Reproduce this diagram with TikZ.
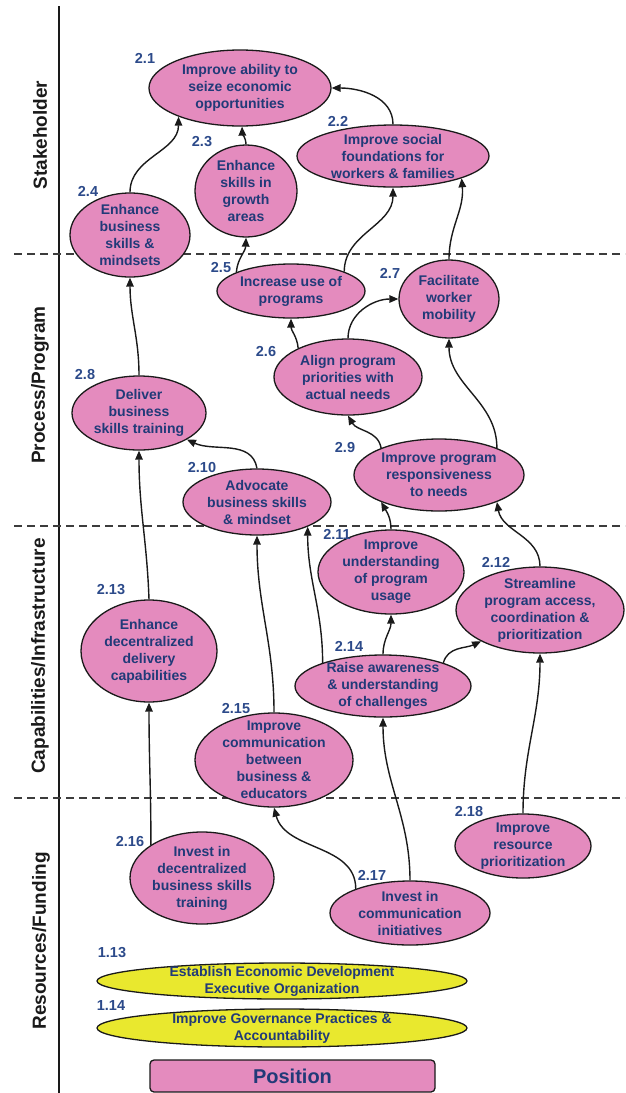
\documentclass[tikz,border=0pt]{standalone}
\usepackage{fontspec}
\setmainfont{Liberation Sans}
\usetikzlibrary{shapes.geometric,arrows.meta}
\definecolor{pinkfill}{HTML}{E48BBE}
\definecolor{navy}{HTML}{213A78}
\definecolor{numblue}{HTML}{2C4A8A}
\definecolor{yel}{HTML}{E9E82E}
\definecolor{ink}{HTML}{1A1A1A}
\begin{document}
\begin{tikzpicture}[x=1pt,y=1pt,
  goal/.style={ellipse, draw=ink, line width=1.3pt, fill=pinkfill, inner sep=-25pt,
    align=center, text=navy, font=\fontsize{14}{17}\selectfont\bfseries},
  prior/.style={goal, fill=yel},
  num/.style={text=numblue, font=\fontsize{14.5}{17}\selectfont\bfseries, inner sep=0pt},
  lane/.style={rotate=90, text=ink, font=\fontsize{19}{22}\selectfont\bfseries, inner sep=0pt},
  divider/.style={draw=ink!85, line width=1.3pt, dash pattern=on 8pt off 5pt},
  arr/.style={draw=ink, line width=1.4pt, -{Triangle[length=9pt,width=7.5pt]}}
]
\useasboundingbox (0,0) rectangle (625,-1093);

% swim-lane frame
\draw[ink, line width=1.6pt] (59,-6) -- (59,-1093);
\draw[divider] (14,-254) -- (625,-254);
\draw[divider] (14,-526) -- (625,-526);
\draw[divider] (14,-798) -- (625,-798);

\node[lane] (laneS) at (40,-135) {Stakeholder};
\node[lane] (laneP) at (40,-385) {Process/Program};
\node[lane] (laneC) at (40,-656) {Capabilities/Infrastructure};
\node[lane] (laneR) at (41,-941) {Resources/Funding};

% stakeholder level
\node[goal, minimum width=182, minimum height=76] (n21) at (240,-88) {Improve ability to\\seize economic\\opportunities};
\node[goal, minimum width=192, minimum height=62] (n22) at (393,-156) {Improve social\\foundations for\\workers \& families};
\node[goal, minimum width=102, minimum height=92] (n23) at (246,-191) {Enhance\\skills in\\growth\\areas};
\node[goal, minimum width=120, minimum height=84] (n24) at (130,-235) {Enhance\\business\\skills \&\\mindsets};

% process level
\node[goal, minimum width=148, minimum height=54] (n25) at (291,-291) {Increase use of\\programs};
\node[goal, minimum width=100, minimum height=78] (n27) at (449,-299) {Facilitate\\worker\\mobility};
\node[goal, minimum width=148, minimum height=76] (n26) at (348,-377) {Align program\\priorities with\\actual needs};
\node[goal, minimum width=134, minimum height=74] (n28) at (139,-413) {Deliver\\business\\skills training};
\node[goal, minimum width=170, minimum height=72] (n29) at (439,-475) {Improve program\\responsiveness\\to needs};
\node[goal, minimum width=148, minimum height=66] (n210) at (257,-502) {Advocate\\business skills\\\& mindset};

% capabilities level
\node[goal, minimum width=146, minimum height=84] (n211) at (391,-572) {Improve\\understanding\\of program\\usage};
\node[goal, minimum width=168, minimum height=86] (n212) at (540,-610) {Streamline\\program access,\\coordination \&\\prioritization};
\node[goal, minimum width=136, minimum height=102] (n213) at (149,-651) {Enhance\\decentralized\\delivery\\capabilities};
\node[goal, minimum width=176, minimum height=62] (n214) at (383,-686) {Raise awareness\\\& understanding\\of challenges};
\node[goal, minimum width=158, minimum height=94] (n215) at (274,-760) {Improve\\communication\\between\\business \&\\educators};

% resources level
\node[goal, minimum width=144, minimum height=92] (n216) at (202,-878) {Invest in\\decentralized\\business skills\\training};
\node[goal, minimum width=160, minimum height=64] (n217) at (410,-913) {Invest in\\communication\\initiatives};
\node[goal, minimum width=136, minimum height=64] (n218) at (523,-846) {Improve\\resource\\prioritization};
\node[prior, minimum width=370, minimum height=36] (n113) at (282,-981) {Establish Economic Development\\Executive Organization};
\node[prior, minimum width=370, minimum height=38] (n114) at (282,-1028) {Improve Governance Practices \&\\Accountability};

\node[draw=ink, line width=1.3pt, rounded corners=4pt, fill=pinkfill, minimum width=285, minimum height=32,
  inner sep=0pt, text=navy, font=\fontsize{20}{24}\selectfont\bfseries] (pos) at (292.5,-1076) {Position};

% objective numbers
\node[num] (l21) at (145,-58) {2.1};
\node[num] (l22) at (338,-121) {2.2};
\node[num] (l23) at (202,-142) {2.3};
\node[num] (l24) at (88,-191) {2.4};
\node[num] (l25) at (221,-268) {2.5};
\node[num] (l27) at (390,-273) {2.7};
\node[num] (l26) at (266,-352) {2.6};
\node[num] (l28) at (85,-375) {2.8};
\node[num] (l29) at (345,-448) {2.9};
\node[num] (l210) at (202,-468) {2.10};
\node[num] (l211) at (337,-534) {2.11};
\node[num] (l212) at (496,-562) {2.12};
\node[num] (l213) at (111,-590) {2.13};
\node[num] (l214) at (349,-646) {2.14};
\node[num] (l215) at (236,-708) {2.15};
\node[num] (l216) at (130,-841) {2.16};
\node[num] (l217) at (372,-875) {2.17};
\node[num] (l218) at (469,-811) {2.18};
\node[num] (l113) at (112,-953) {1.13};
\node[num] (l114) at (111,-1005) {1.14};

% influence links
\draw[arr] (n24.north) to[out=90,in=-90] (n21.205);
\draw[arr] (n23.north) to[out=92,in=-88] (n21.273);
\draw[arr] (n22.north) to[out=90,in=0] (n21.east);
\draw[arr] (n25.161) to[out=85,in=-92] (n23.south);
\draw[arr] (n25.20) to[out=90,in=-90] (n22.south);
\draw[arr] (n27.north) to[out=90,in=-85] (n22.342);
\draw[arr] (n26.150) to[out=95,in=-90] (n25.south);
\draw[arr] (n26.north) to[out=90,in=180] (n27.west);
\draw[arr] (n28.north) to[out=90,in=-90] (n24.south);
\draw[arr] (n29.25) to[out=90,in=-90] (n27.south);
\draw[arr] (n29.155) to[out=100,in=-60] (n26.south);
\draw[arr] (n210.north) to[out=100,in=-25] (n28.331);
\draw[arr] (n213.north) to[out=92,in=-90] (n28.south);
\draw[arr] (n215.north) to[out=90,in=-90] (n210.south);
\draw[arr] (n214.159) to[out=90,in=-90] (n210.334);
\draw[arr] (n214.north) to[out=90,in=-90] (n211.south);
\draw[arr] (n214.21) to[out=75,in=205] (n212.208);
\draw[arr] (n211.north) to[out=90,in=-60] (n29.205);
\draw[arr] (n212.north) to[out=90,in=-80] (n29.335);
\draw[arr] (n217.north) to[out=90,in=-90] (n214.south);
\draw[arr] (n218.north) to[out=90,in=-90] (n212.south);
\draw[arr] (n216.147) to[out=90,in=-90] (n213.south);
\draw[arr] (n217.156) to[out=90,in=-75] (n215.south);
\end{tikzpicture}
\end{document}
